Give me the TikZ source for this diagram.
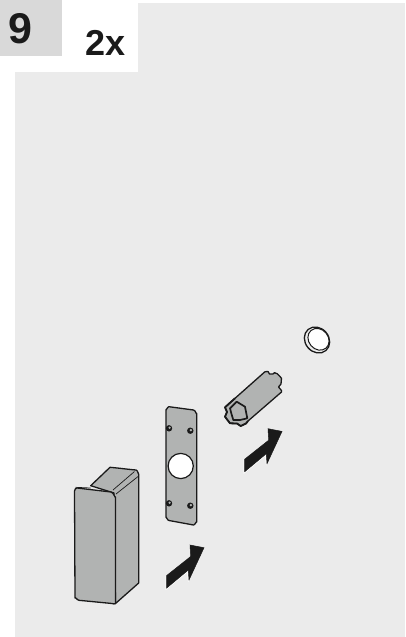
\documentclass[tikz,border=0pt]{standalone}
\usepackage{fontspec}
\setmainfont{Liberation Sans}
\usepackage{xcolor}
\usetikzlibrary{positioning}
\definecolor{panel}{HTML}{EBEBEB}
\definecolor{stepbg}{HTML}{D9D9D9}
\definecolor{part}{HTML}{B1B3B2}
\definecolor{ink}{HTML}{1A1A1A}
\begin{document}
\begin{tikzpicture}[
    x=1pt, y=-1pt,
    outline/.style={draw=ink, line width=1.3pt, line join=round, fill=part},
    detail/.style={draw=ink, line width=0.7pt},
    push/.style={fill=ink, draw=ink, line width=0.5pt, line join=miter},
    halo/.style={draw=white, line width=1pt, line join=miter},
    pics/pusharrow/.style={code={
        % white edge on the lower side
        \draw[halo] (166.2,575.5) -- (166.2,589) -- (187.5,571.5) -- (188.5,581.5);
        \path[push] (166.7,575.5) -- (190.7,556.5) -- (190,545) -- (204,547.7)
            -- (189,580) -- (188.3,570) -- (166.7,588) -- cycle;
    }}
]
\useasboundingbox (0,0) rectangle (405,637);

% Background
\fill[white] (0,0) rectangle (405,637);
\fill[panel] (15,72) rectangle (405,637);
\fill[panel] (138,3) rectangle (405,72);
\fill[stepbg] (0,0) rectangle (62,56);

% Labels
\node[font=\fontsize{43}{43}\selectfont\bfseries, color=ink, inner sep=0pt] (stepno) at (20,29) {9};
\node[font=\fontsize{36}{36}\selectfont\bfseries, color=ink, inner sep=0pt] (count) at (105.5,43) {2x};

% Block
\draw[outline] (90.7,485.7) -- (110,467.3) to[out=-5,in=175] (136,470)
    to[out=0,in=-90] (138.7,474) -- (138.7,583) -- (115.5,603.5) -- (114,493) -- cycle;
\draw[outline] (77,488) to[out=170,in=70] (74.5,491) -- (75,598)
    to[out=90,in=180] (79,600.3) -- (112,603.5) to[out=0,in=-120] (115.5,603.5)
    -- (115.5,497) to[out=-90,in=0] (111,492) -- cycle;
\draw[detail] (75.5,487.3) -- (90.7,488);
\draw[detail] (134.5,471.5) -- (113,490);
\draw[detail] (138.7,476) -- (116,494);

% Plate
\draw[outline] (169,406.7) -- (193.5,410) to[out=0,in=-90] (196.7,413.5)
    -- (196.7,522) to[out=90,in=0] (193.5,525) -- (169,520.5)
    to[out=180,in=90] (166,517.5) -- (166,409.5) to[out=-90,in=180] cycle;
\draw[line width=1.2pt, draw=ink, fill=white] (180.7,466) circle (12.6);
\foreach \sx/\sy [count=\i] in {169/428.3, 190.3/430.7, 169/503.3, 190.3/505.7} {
    \fill[ink] (\sx,\sy) circle (3.2);
    \fill[part] (\sx+0.6,\sy-0.6) circle (1.3);
}

% Tube
\draw[outline] (235,398.3) -- (265,371.7) -- (268,371.5) -- (269.5,374) -- (273,374) -- (274.5,372.7)
    to[out=10,in=-60] (281.5,378.3) -- (281,384) -- (278.5,387) -- (281.5,390.5) -- (281.5,392)
    -- (248,421) -- (246,423.5) -- (240.7,426) -- (237,423.5) -- (230,423.3)
    -- (225,416.7) -- (227,412) -- (225,407.3) -- cycle;
\draw[draw=ink, line width=1.7pt, fill=part, line join=round] (230,408.3) -- (236.7,401.7)
    -- (245,406.7) -- (247.3,418.3) -- (240,420) -- (233.3,420) -- (231.5,414) -- cycle;
\draw[draw=ink, line width=1.8pt, line join=round] (235,398.3) -- (225,407.3) -- (227,412) -- (225,416.7)
    -- (230,423.3) -- (237,423.5) -- (240.7,426) -- (246,423.5) -- (248,421);

% Cap
\draw[draw=ink, line width=1.3pt, fill=panel, shift={(317,340)}, rotate=-50]
    (0,0) ellipse [x radius=13.8, y radius=11.8];
\draw[draw=ink, line width=1pt, fill=white, shift={(318.5,339.3)}, rotate=-50]
    (0,0) ellipse [x radius=11.6, y radius=9.8];

% Arrows
\pic (pusha) at (0,0) {pusharrow};
\pic (pushb) at (78,-116.3) {pusharrow};

\end{tikzpicture}
\end{document}
